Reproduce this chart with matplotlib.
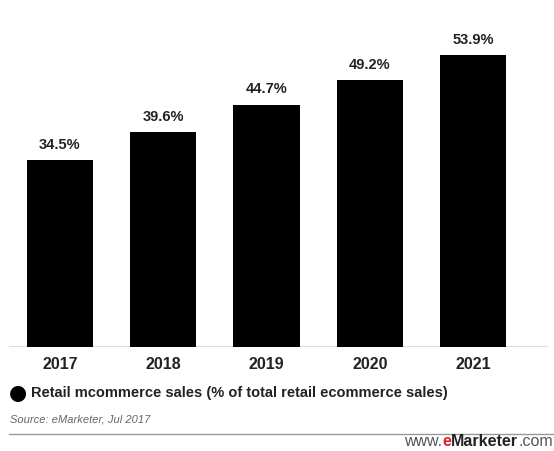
import matplotlib
matplotlib.use("Agg")
import matplotlib.pyplot as plt

years = ["2017", "2018", "2019", "2020", "2021"]
share = [34.5, 39.6, 44.7, 49.2, 53.9]
value_labels = ["34.5%", "39.6%", "44.7%", "49.2%", "53.9%"]
legend_text = "Retail mcommerce sales (% of total retail ecommerce sales)"
source_text = "Source: eMarketer, Jul 2017"

plt.rcParams["font.family"] = ["Liberation Sans", "DejaVu Sans"]

W, H = 554, 451
fig = plt.figure(figsize=(W / 100, H / 100), dpi=100)
fig.patch.set_facecolor("white")

# plot area: baseline at y=347 px, spans x 9..548 px
ax = fig.add_axes([9 / W, 1 - 347 / H, (548 - 9) / W, 327 / H])
x = list(range(len(years)))
ax.bar(x, share, width=0.64, color="black")
ax.set_xlim(-0.494, 4.726)
ax.set_ylim(0, 60.33)
ax.axhline(0, color="#dcdcdc", lw=1.5, zorder=0)

for xi, v, lab in zip(x, share, value_labels):
    ax.annotate(lab, (xi, v), xytext=(0, 6), textcoords="offset points",
                ha="center", va="bottom", fontsize=10.5, fontweight="bold",
                color="#222222")

ax.set_xticks(x)
ax.set_xticklabels(years, fontsize=11.5, fontweight="bold", color="#222222")
ax.tick_params(axis="x", length=0, pad=7)
ax.set_yticks([])
for s in ax.spines.values():
    s.set_visible(False)

# legend row
fig.text(18 / W, 1 - 393 / H, "\u25CF", fontsize=15, color="black",
         ha="center", va="center", family="DejaVu Sans")
fig.text(31 / W, 1 - 393 / H, legend_text, fontsize=10.5, fontweight="bold",
         color="#222222", ha="left", va="center")

# source line
fig.text(10 / W, 1 - 420 / H, source_text, fontsize=8, style="italic",
         color="#666666", ha="left", va="center")
fig.add_artist(plt.Line2D([9 / W, 1.0], [1 - 434 / H, 1 - 434 / H],
                          color="#999999", lw=1.0))

# footer brand
parts = [("www.", "#555555", "normal"), ("e", "#d62027", "bold"),
         ("Marketer", "#222222", "bold"), (".com", "#555555", "normal")]
fig.canvas.draw()
renderer = fig.canvas.get_renderer()
xr = 553
for txt, col, wt in reversed(parts):
    t = fig.text(xr / W, 1 - 446 / H, txt, fontsize=11.5, color=col,
                 fontweight=wt, ha="right", va="baseline")
    bb = t.get_window_extent(renderer)
    xr -= bb.width

fig.savefig("out.png", dpi=100, facecolor="white")
